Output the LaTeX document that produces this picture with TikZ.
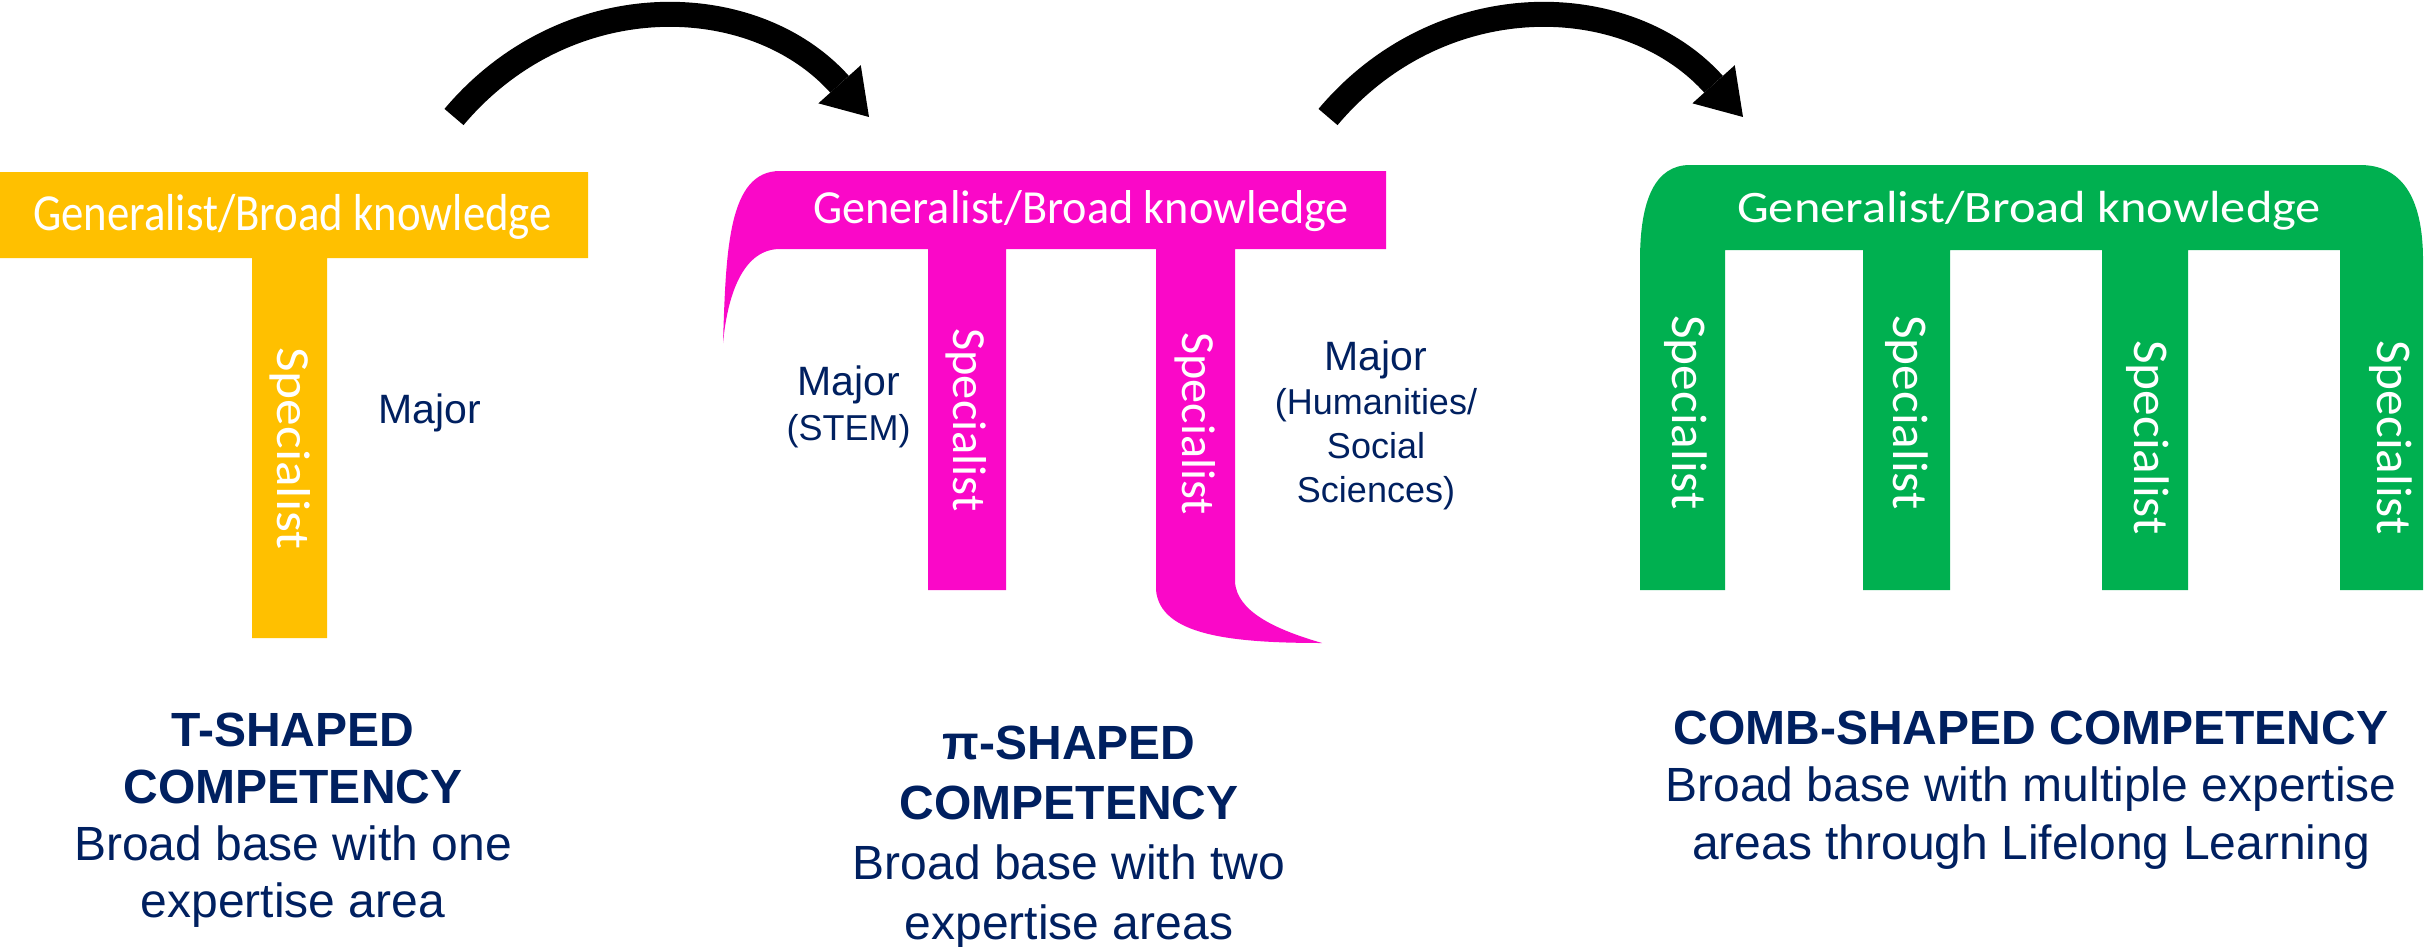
\documentclass[tikz,border=0pt]{standalone}
\usepackage{fontspec}
\usepackage{graphicx}
\setmainfont{Liberation Sans}
\newfontfamily\calibrifont{Carlito}
\usetikzlibrary{arrows.meta}
\definecolor{tyellow}{HTML}{FFC000}
\definecolor{tpink}{HTML}{FA08C8}
\definecolor{tgreen}{HTML}{00B050}
\definecolor{navy}{HTML}{002060}
\begin{document}
\begin{tikzpicture}[x=1pt,y=-1pt,
  shapetxt/.style={text=white, inner sep=0pt, anchor=base},
  spec/.style={text=white, inner sep=0pt, rotate=-90, anchor=base west},
  lbl/.style={text=navy, inner sep=0pt},
  block/.style={text=navy, inner sep=0pt, align=center, anchor=north, font=\fontsize{48}{#1}\selectfont},
  bigarrow/.style={line width=25pt, -{Triangle[length=44pt,width=57pt,line width=0pt]}}]
\fill[white] (0,0) rectangle (2425,947);
\useasboundingbox (0,0) rectangle (2425,947);

% arrows
\coordinate (a1s) at (454,117); \coordinate (a1e) at (869,117);
\coordinate (a2s) at (1328,117); \coordinate (a2e) at (1743,117);
\draw[bigarrow] (a1s) .. controls (566,-16) and (753,-12) .. (a1e);
\draw[bigarrow] (a2s) .. controls (1440,-16) and (1627,-12) .. (a2e);

% T shape
\fill[tyellow] (0,172) -- (588,172) -- (588,258) -- (327,258) -- (327,638) -- (252,638) -- (252,258) -- (0,258) -- cycle;
\node[shapetxt, font=\calibrifont\fontsize{52}{60}\selectfont] (ygen) at (292.5,230) {\scalebox{0.861}[1]{Generalist/Broad knowledge}};
\node[spec, font=\calibrifont\fontsize{47.5}{55}\selectfont] (yspec) at (277,347) {\scalebox{1.125}[1]{Specialist}};
\node[lbl, font=\fontsize{41}{45}\selectfont, anchor=base] (ymajor) at (430,423) {Major};

% Pi shape
\fill[tpink] (780,171) -- (1386,171) -- (1386,249) -- (1235,249) -- (1235,583)
  .. controls (1238,610) and (1270,628) .. (1322,643)
  .. controls (1230,643) and (1160,635) .. (1156,590)
  -- (1156,249) -- (1006,249) -- (1006,590) -- (928,590) -- (928,249) -- (780,249)
  .. controls (745,249) and (728,290) .. (723,343)
  .. controls (726,250) and (728,171) .. (780,171) -- cycle;
\node[shapetxt, font=\calibrifont\fontsize{47.5}{55}\selectfont] (pgen) at (1081,223) {\scalebox{0.973}[1]{Generalist/Broad knowledge}};
\node[spec, font=\calibrifont\fontsize{47.5}{55}\selectfont] (pspec1) at (953,328) {\scalebox{1.02}[1]{Specialist}};
\node[spec, font=\calibrifont\fontsize{47.5}{55}\selectfont] (pspec2) at (1182,332) {\scalebox{1.015}[1]{Specialist}};
\node[lbl, font=\fontsize{41}{45}\selectfont, align=center, anchor=north] (pmajor1) at (848.5,365.6) {Major\\{\fontsize{36}{45}\selectfont (STEM)}};
\node[lbl, font=\fontsize{41}{44}\selectfont, align=center, anchor=north] (pmajor2) at (1376,340.6) {Major\\{\fontsize{36}{44}\selectfont (Humanities/}\\{\fontsize{36}{44}\selectfont Social}\\{\fontsize{36}{44}\selectfont Sciences)}};

% Comb shape
\fill[tgreen] (1640,590) -- (1640,260) .. controls (1640,200) and (1655,165) .. (1690,165)
  -- (2360,165) .. controls (2400,165) and (2423,195) .. (2423,260)
  -- (2423,590) -- (2340,590) -- (2340,250) -- (2188,250) -- (2188,590) -- (2102,590)
  -- (2102,250) -- (1950,250) -- (1950,590) -- (1863,590) -- (1863,250) -- (1725,250)
  -- (1725,590) -- cycle;
\node[shapetxt, font=\calibrifont\fontsize{45}{52}\selectfont] (ggen) at (2029,222) {\scalebox{1.12}[1]{Generalist/Broad knowledge}};
\node[spec, font=\calibrifont\fontsize{50}{58}\selectfont] (gspec1) at (1672,315) {\scalebox{1.027}[1]{Specialist}};
\node[spec, font=\calibrifont\fontsize{50}{58}\selectfont] (gspec2) at (1893,315) {\scalebox{1.027}[1]{Specialist}};
\node[spec, font=\calibrifont\fontsize{50}{58}\selectfont] (gspec3) at (2134,340) {\scalebox{1.027}[1]{Specialist}};
\node[spec, font=\calibrifont\fontsize{50}{58}\selectfont] (gspec4) at (2377,340) {\scalebox{1.027}[1]{Specialist}};

% captions
\node[block=57] (tcap) at (293,712.6) {\textbf{T-SHAPED}\\\textbf{COMPETENCY}\\Broad base with one\\expertise area};
\node[block=60] (picap) at (1069,725.6) {\textbf{π-SHAPED}\\\textbf{COMPETENCY}\\Broad base with two\\expertise areas};
\node[block=57.5] (combcap) at (2031,710.6) {\textbf{COMB-SHAPED COMPETENCY}\\Broad base with multiple expertise\\areas through Lifelong Learning};
\end{tikzpicture}
\end{document}
